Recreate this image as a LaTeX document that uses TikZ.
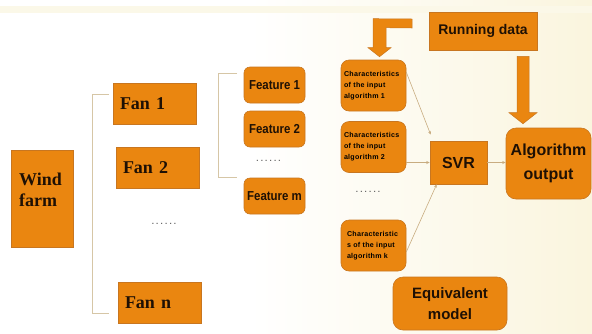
\documentclass[tikz,border=0pt]{standalone}
\usepackage{fontspec}
\setmainfont{Liberation Serif}
\newfontfamily\sansn{Liberation Sans}
\newfontfamily\sansc[FakeStretch=0.88]{Liberation Sans}
\newfontfamily\charfont[LetterSpace=4]{Liberation Sans}
\newcommand\myDotRow{.\hspace{2.2pt}.\hspace{2.2pt}.\hspace{2.2pt}.\hspace{2.2pt}.\hspace{2.2pt}.}
\usetikzlibrary{calc,arrows.meta}
\definecolor{orng}{RGB}{234,134,16}
\definecolor{obrd}{RGB}{200,118,32}
\definecolor{txt}{RGB}{30,16,4}
\definecolor{lin}{RGB}{200,172,128}
\definecolor{brk}{RGB}{214,198,166}
\definecolor{cream}{RGB}{250,245,222}
\definecolor{dots}{RGB}{100,100,100}
\begin{document}
\begin{tikzpicture}[x=1pt,y=-1pt,
  box/.style={draw=obrd,fill=orng,line width=0.6pt,text=txt,inner sep=0pt},
  fanbox/.style={box,minimum width=83pt,minimum height=41pt,inner xsep=7pt,text width=69pt,align=left,
    font=\fontsize{18}{20}\selectfont\bfseries},
  featbox/.style={box,rounded corners=6pt,minimum width=61pt,minimum height=36pt,align=center,
    font=\sansc\fontsize{13}{15}\selectfont\bfseries},
  charbox/.style={box,rounded corners=8pt,minimum width=65pt,minimum height=51pt,inner xsep=3pt,
    text width=59pt,align=left,text=black,font=\charfont\fontsize{7.1}{11}\selectfont\bfseries},
  bigtxt/.style={box,align=center,font=\sansn\fontsize{16}{24}\selectfont\bfseries},
  thin/.style={draw=lin,line width=0.6pt,-{Stealth[length=3.5pt,width=3pt]}},
  bracket/.style={draw=brk,line width=0.9pt},
  dotted text/.style={text=dots,font=\sansn\fontsize{8}{8}\selectfont\bfseries,inner sep=0pt},
  blockarrow/.style={fill=orng,draw=obrd,line width=0.5pt}
]
\useasboundingbox (0,0) rectangle (592,333);
% background
\fill[white] (0,0) rectangle (592,333);
\shade[left color=white,right color=cream] (250,0) rectangle (592,333);
\fill[cream!70] (0,6) rectangle (592,13);

% wind farm
\node[box,minimum width=62pt,minimum height=97pt] (wf) at (42,198.5) {};
\node[anchor=north west,inner sep=0pt,align=left,text=txt,font=\fontsize{18}{21}\selectfont\bfseries] (wft) at (19,173) {Wind\\farm};

% fans
\node[fanbox] (f1) at (154.5,103.5) {Fan 1};
\node[fanbox] (f2) at (157.5,168) {Fan 2};
\node[fanbox] (fn) at (159.5,303) {Fan n};
\node[dotted text] (fd) at (164,224) {\myDotRow};
\draw[bracket] (109,94) -- (92,94) -- (92,313) -- (109,313);

% features
\node[featbox] (ft1) at (274.5,85) {Feature 1};
\node[featbox] (ft2) at (274.5,129) {Feature 2};
\node[featbox] (ftm) at (274.5,196) {Feature m};
\node[dotted text] (ftd) at (268.5,161) {\myDotRow};
\draw[bracket] (237,73) -- (218,73) -- (218,177) -- (237,177);

% characteristics
\node[charbox] (c1) at (373.5,85.5) {Characteristics\\of the input\\algorithm 1};
\node[charbox] (c2) at (373.5,147) {Characteristics\\of the input\\algorithm 2};
\node[charbox,inner xsep=6pt,text width=53pt] (ck) at (373.5,245.5) {Characteristic\\s of the input\\algorithm k};
\node[dotted text] (cd) at (368,192) {\myDotRow};

% SVR, running data, output, equivalent model
\node[bigtxt,minimum width=57pt,minimum height=43pt] (svr) at (458.5,162.5) {SVR};
\node[bigtxt,minimum width=108pt,minimum height=38pt,font=\sansn\fontsize{14}{16}\selectfont\bfseries] (rd) at (483,31) {Running data};
\node[bigtxt,rounded corners=10pt,minimum width=85pt,minimum height=71pt] (algo) at (548.5,163.5) {Algorithm\\output};
\node[bigtxt,rounded corners=10pt,minimum width=114pt,minimum height=53pt,font=\sansn\fontsize{15}{21}\selectfont\bfseries] (eq) at (450,303.5) {Equivalent\\model};

% thin connectors
\draw[thin] (c1.22) -- ($(svr.north west)+(1,-6)$);
\draw[thin] (c2.east |- svr.west) -- (svr.west);
\draw[thin] (ck.-11) -- ($(svr.south west)+(7,0)$);
\draw[thin] (svr.east) -- (svr.east -| algo.west);

% block arrow running data -> algorithm output
\coordinate (ra) at ($(rd.south)+(40,6)$);
\coordinate (rb) at ($(algo.north)+(-25.5,-4)$);
\fill[blockarrow] ($(ra)+(-6,0)$) -- ($(ra)+(6,0)$) -- ($(rb)+(6,-11)$) -- ($(rb)+(14,-11)$)
  -- (rb) -- ($(rb)+(-14,-11)$) -- ($(rb)+(-6,-11)$) -- cycle;

% bent block arrow into characteristics 1
\coordinate (ba) at (412,19);
\coordinate (bb) at ($(c1.north)+(6,-3)$);
\fill[blockarrow] (ba) -- ($(ba)+(0,9)$) -- ($(bb)+(6.5,-29)$) -- ($(bb)+(6.5,-9)$) -- ($(bb)+(11.5,-9)$)
  -- (bb) -- ($(bb)+(-11.5,-9)$) -- ($(bb)+(-6.5,-9)$) -- ($(bb)+(-6.5,-38)$) -- cycle;
\end{tikzpicture}
\end{document}
